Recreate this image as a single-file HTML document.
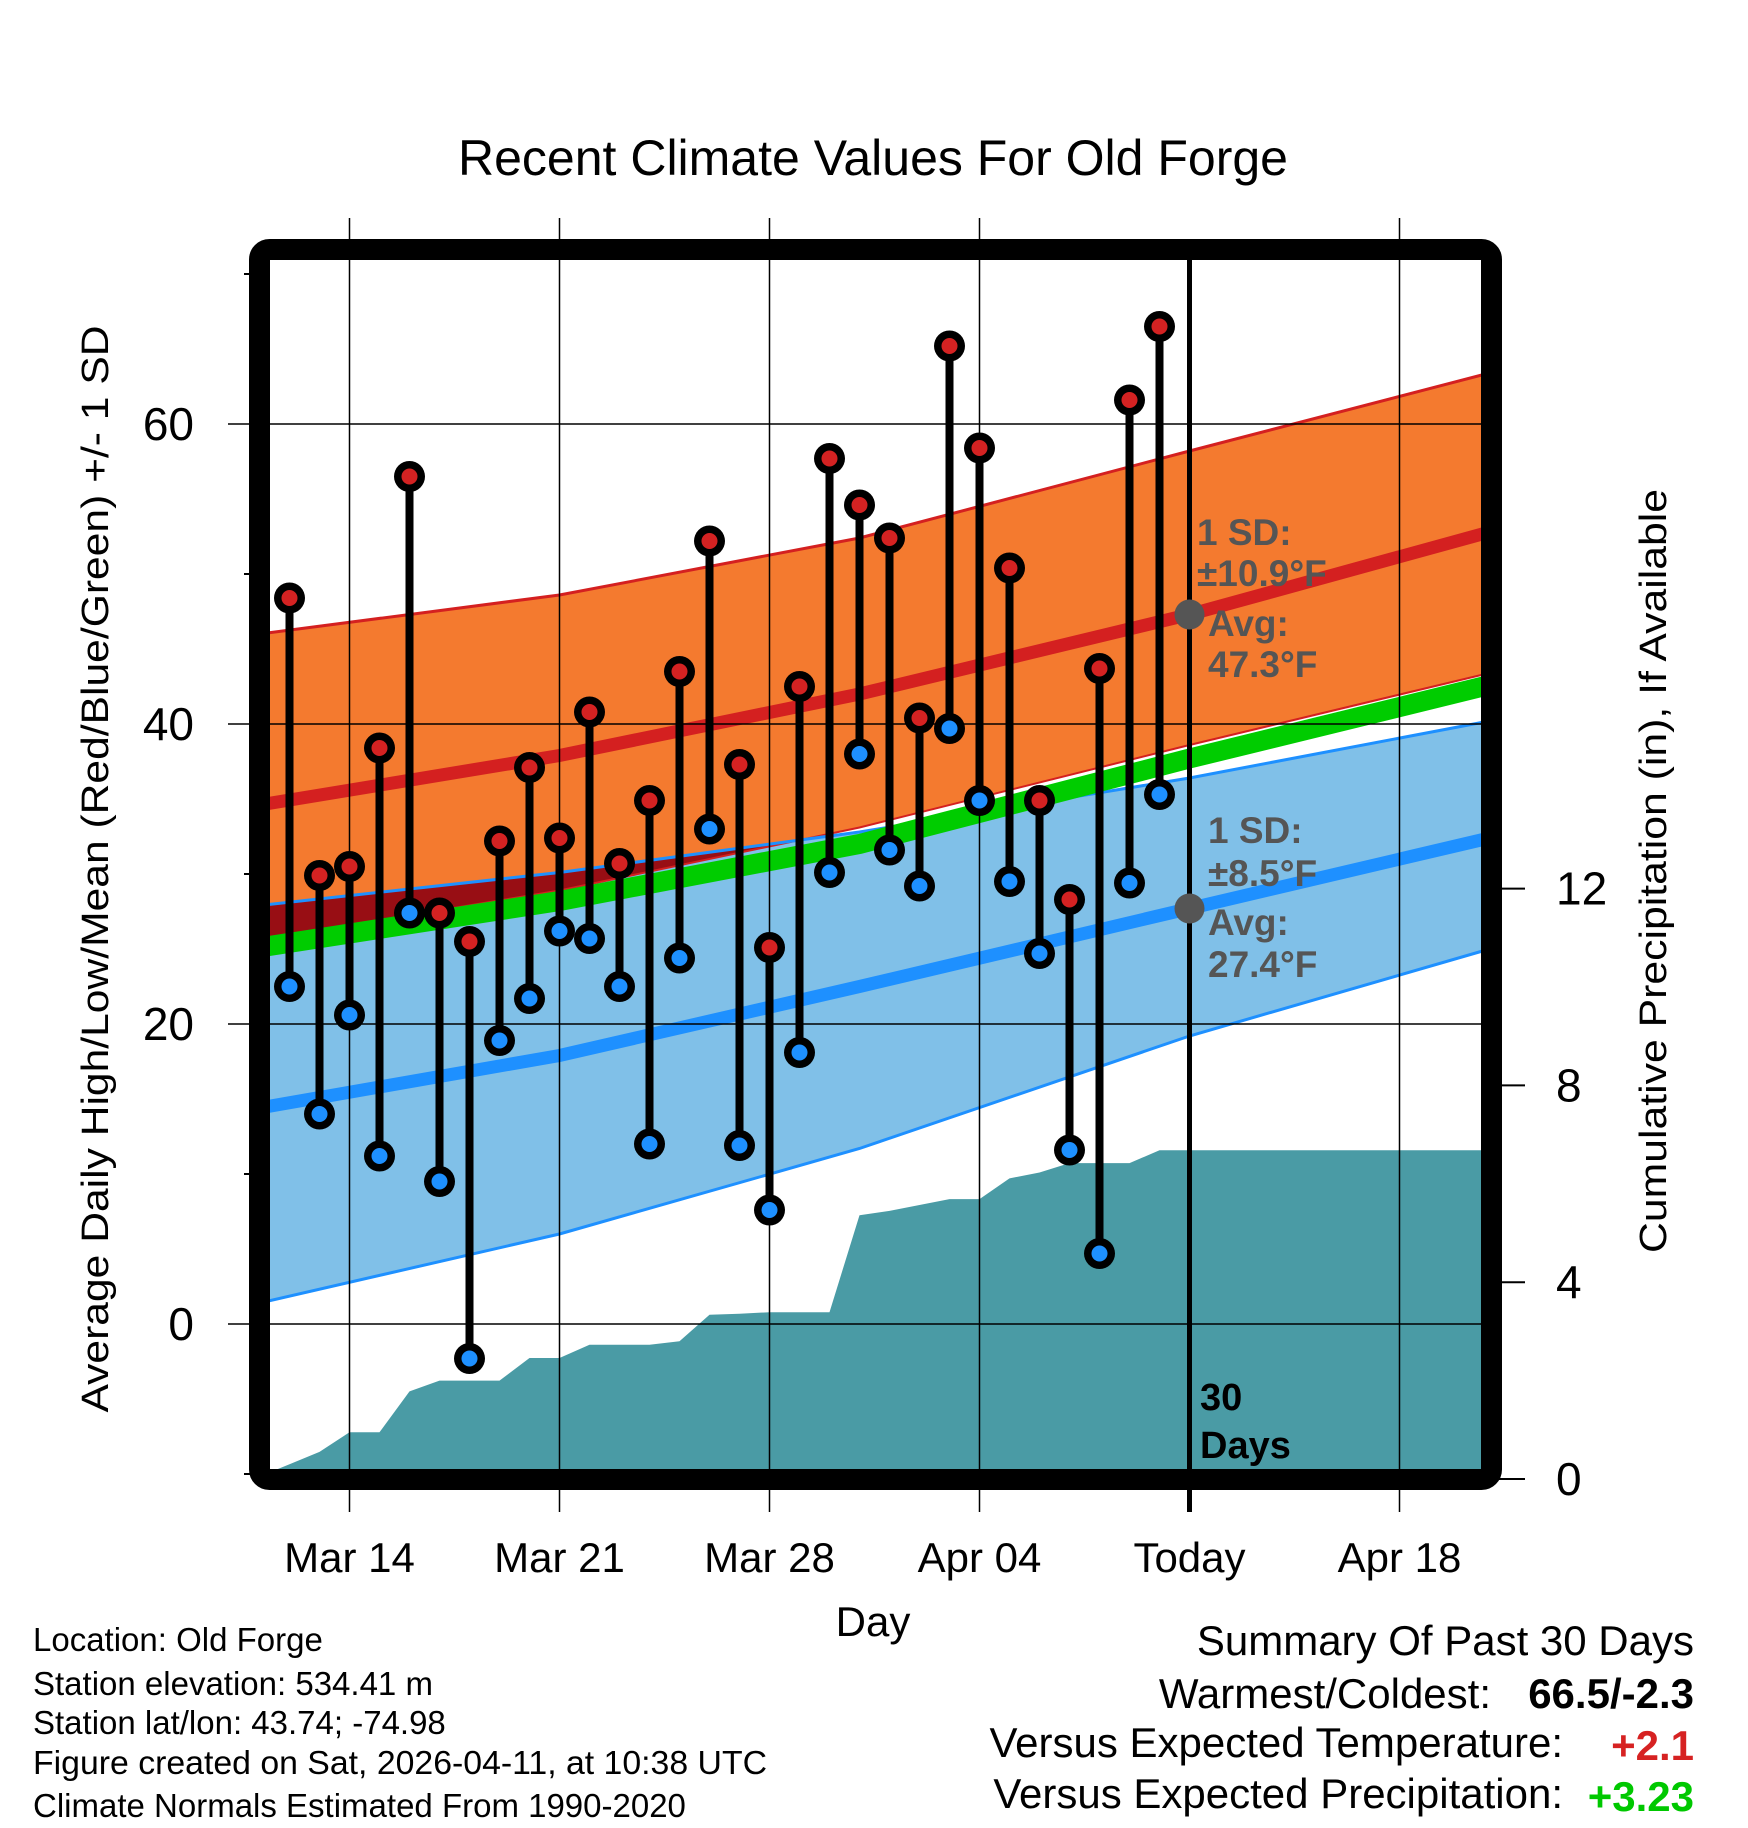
<!DOCTYPE html>
<html><head><meta charset="utf-8"><style>
html,body{margin:0;padding:0;background:#fff;}
svg{display:block;font-family:"Liberation Sans",sans-serif;}
</style></head><body>
<svg id="chart" width="1748" height="1828" viewBox="0 0 1748 1828" xmlns="http://www.w3.org/2000/svg">
<defs><clipPath id="plotclip"><rect x="259.5" y="249.5" width="1232" height="1230"/></clipPath></defs>
<text x="873" y="175" font-size="50" text-anchor="middle">Recent Climate Values For Old Forge</text>
<g id="bands" clip-path="url(#plotclip)"></g>
<g id="grid"></g>
<g id="marks" clip-path="url(#plotclip)"></g>
<g id="annot"></g>
<rect x="259.5" y="249.5" width="1232" height="1230" rx="10" fill="none" stroke="#000" stroke-width="21"/>
<g id="axes"></g>
<text x="873" y="1636" font-size="42" text-anchor="middle">Day</text>
<text transform="translate(108,869) rotate(-90)" font-size="38" text-anchor="middle" textLength="1087" lengthAdjust="spacingAndGlyphs">Average Daily High/Low/Mean (Red/Blue/Green) +/- 1 SD</text>
<text transform="translate(1666,871) rotate(-90)" font-size="38" text-anchor="middle" textLength="764" lengthAdjust="spacingAndGlyphs">Cumulative Precipitation (in), If Available</text>
<g font-size="33">
<text x="33" y="1651">Location: Old Forge</text>
<text x="33" y="1695">Station elevation: 534.41 m</text>
<text x="33" y="1734">Station lat/lon: 43.74; -74.98</text>
<text x="33" y="1774" textLength="734" lengthAdjust="spacingAndGlyphs">Figure created on Sat, 2026-04-11, at 10:38 UTC</text>
<text x="33" y="1817">Climate Normals Estimated From 1990-2020</text>
</g>
<g font-size="42" text-anchor="end">
<text x="1694" y="1655">Summary Of Past 30 Days</text>
<text x="1491" y="1708">Warmest/Coldest:</text>
<text x="1694" y="1708" font-weight="bold">66.5/-2.3</text>
<text x="1563" y="1757">Versus Expected Temperature:</text>
<text x="1694" y="1760" font-weight="bold" fill="#d62222">+2.1</text>
<text x="1563" y="1808">Versus Expected Precipitation:</text>
<text x="1694" y="1811" font-weight="bold" fill="#00c800">+3.23</text>
</g>
</svg>
<script>
// day index 0 = Mar 11
const obsDays = [1,2,3,4,5,6,7,8,9,10,11,12,13,14,15,16,17,18,19,20,21,22,23,24,25,26,27,28,29,30];
const highs = [48.4,29.9,30.5,38.4,56.5,27.4,25.5,32.2,37.1,32.4,40.8,30.7,34.9,43.5,52.2,37.3,25.1,42.5,57.7,54.6,52.4,40.4,65.2,58.4,50.4,34.9,28.3,43.7,61.6,66.5];
const lows = [22.5,14.0,20.6,11.2,27.4,9.5,-2.3,18.9,21.7,26.2,25.7,22.5,12.0,24.4,33.0,11.9,7.6,18.1,30.1,38.0,31.6,29.2,39.7,34.9,29.5,24.7,11.6,4.7,29.4,35.3];
const normDays = [0,10,20,31,41];
const redUpper = [46.0,48.6,52.4,58.2,63.4];
const redMean = [34.6,37.9,42.0,47.3,52.8];
const redLower = [25.6,28.9,33.1,38.6,43.4];
const greenMean = [25.1,28.2,32.0,37.7,42.6];
const blueUpper = [27.9,30.1,32.8,36.4,40.2];
const blueMean = [14.4,17.9,22.5,27.7,32.4];
const blueLower = [1.4,6.0,11.7,19.2,25.0];
const precipDays = [0,1,2,3,4,5,6,7,8,9,10,11,12,13,14,15,16,17,18,19,20,21,22,23,24,25,26,27,28,29,30,41];
const precip = [0.05,0.3,0.55,0.95,0.95,1.78,2.0,2.0,2.0,2.46,2.46,2.73,2.73,2.73,2.8,3.34,3.36,3.39,3.39,3.39,5.36,5.45,5.57,5.69,5.69,6.11,6.23,6.42,6.42,6.42,6.68,6.68];
const xTickDays = [3,10,17,24,31,38];
const xTickLabels = ["Mar 14","Mar 21","Mar 28","Apr 04","Today","Apr 18"];
const yTicks = [0,20,40,60];
const yMinor = [-10,10,30,50,70];
const pTicks = [0,4,8,12];
const todayDay = 31;

const NS="http://www.w3.org/2000/svg";
function X(d){return 259.5+d*30.0;}
function Y(v){return 1324-15.0*v;}
function YP(p){return 1479-49.2*p;}
function mk(tag,attrs,parent){const e=document.createElementNS(NS,tag);for(const k in attrs)e.setAttribute(k,attrs[k]);parent.appendChild(e);return e;}
function pts(days,vals,f){return days.map((d,i)=>X(d).toFixed(1)+","+f(vals[i]).toFixed(1));}
const bands=document.getElementById('bands'),grid=document.getElementById('grid'),marks=document.getElementById('marks'),annot=document.getElementById('annot'),axes=document.getElementById('axes');

const bandPoly=(up,lo)=>pts(normDays,up,Y).concat(pts(normDays,lo,Y).reverse()).join(" ");
let e;
e=mk('polygon',{points:bandPoly(redUpper,redLower),fill:'#f47a2f'},bands);


const cp=mk('clipPath',{id:'blueclip'},bands);
mk('polygon',{points:bandPoly(blueUpper,blueLower)},cp);
e=mk('polygon',{points:bandPoly(blueUpper,blueLower),fill:'#80c0e8'},bands);


e=mk('polygon',{points:bandPoly(redUpper,redLower),fill:'#980e14','clip-path':'url(#blueclip)'},bands);


e=mk('polyline',{points:pts(normDays,redUpper,Y).join(" "),fill:'none',stroke:'#d42020','stroke-width':3},bands);


e=mk('polyline',{points:pts(normDays,redLower,Y).join(" "),fill:'none',stroke:'#d42020','stroke-width':2},bands);


e=mk('polyline',{points:pts(normDays,blueUpper,Y).join(" "),fill:'none',stroke:'#1e90ff','stroke-width':3},bands);


e=mk('polyline',{points:pts(normDays,blueLower,Y).join(" "),fill:'none',stroke:'#1e90ff','stroke-width':3},bands);


e=mk('polyline',{points:pts(normDays,greenMean,Y).join(" "),fill:'none',stroke:'#00cc00','stroke-width':20},bands);


e=mk('polyline',{points:pts(normDays,redMean,Y).join(" "),fill:'none',stroke:'#d42020','stroke-width':13},bands);


e=mk('polyline',{points:pts(normDays,blueMean,Y).join(" "),fill:'none',stroke:'#1e90ff','stroke-width':13},bands);


const pp=pts(precipDays,precip,YP);
pp.push(X(precipDays[precipDays.length-1]).toFixed(1)+","+YP(-1).toFixed(1));
pp.push(X(precipDays[0]).toFixed(1)+","+YP(-1).toFixed(1));
e=mk('polygon',{points:pp.join(" "),fill:'#4a9ba5'},bands);



// grid
yTicks.forEach(v=>{const l=mk('line',{x1:228,x2:1491,y1:Y(v),y2:Y(v),stroke:'#000','stroke-width':1.5},grid);

});
xTickDays.forEach((d,i)=>{const l=mk('line',{x1:X(d),x2:X(d),y1:d===todayDay?250:218,y2:1512,stroke:'#000','stroke-width':d===todayDay?5:1.5},grid);


const t=mk('text',{x:X(d),y:1572,'font-size':42,'text-anchor':'middle'},axes);t.textContent=xTickLabels[i];

});

// stems & markers
obsDays.forEach((d,i)=>{
 const s=mk('line',{x1:X(d),x2:X(d),y1:Y(highs[i]),y2:Y(lows[i]),stroke:'#000','stroke-width':8},marks);
 
 
});
obsDays.forEach((d,i)=>{
 [[lows[i],'#1e90ff','low-marker'],[highs[i],'#d42222','high-marker']].forEach(([v,c,n])=>{
  const g=mk('g',{},marks);
  
  
  mk('circle',{cx:X(d),cy:Y(v),r:15.5,fill:'#000'},g);
  mk('circle',{cx:X(d),cy:Y(v),r:8,fill:c},g);
 });
});

// annotations
const tv=[redMean[3],blueMean[3]];
tv.forEach((v,i)=>{const c=mk('circle',{cx:X(todayDay),cy:Y(v),r:15,fill:'#555'},annot);

});
const lab=[[1197,["1 SD:","±10.9°F"],[532,573],1208,["Avg:","47.3°F"],[623,664]],[1208,["1 SD:","±8.5°F"],[830,873],1208,["Avg:","27.4°F"],[922,964]]];
lab.forEach((L,k)=>{
 [[L[0],L[1],L[2]],[L[3],L[4],L[5]]].forEach(([x,txt,ys])=>{txt.forEach((s,j)=>{
  const t=mk('text',{x:x,y:ys[j]+13,'font-size':37,'font-weight':'bold',fill:'#555'},annot);t.textContent=s;
  
  });});
});
["30","Days"].forEach((s,j)=>{const t=mk('text',{x:1200,y:1410+j*48,'font-size':38,'font-weight':'bold'},annot);t.textContent=s;

});

// axis ticks
yTicks.forEach(v=>{const t=mk('text',{x:194,y:Y(v)+16,'font-size':46,'text-anchor':'end'},axes);t.textContent=v;

});
yMinor.forEach(v=>{const l=mk('line',{x1:244,x2:260,y1:Y(v),y2:Y(v),stroke:'#000','stroke-width':2},axes);

});
pTicks.forEach(p=>{const l=mk('line',{x1:1491,x2:1525,y1:YP(p),y2:YP(p),stroke:'#000','stroke-width':2},axes);


const t=mk('text',{x:1556,y:YP(p)+16,'font-size':46},axes);t.textContent=p;

});
</script>
</body></html>
